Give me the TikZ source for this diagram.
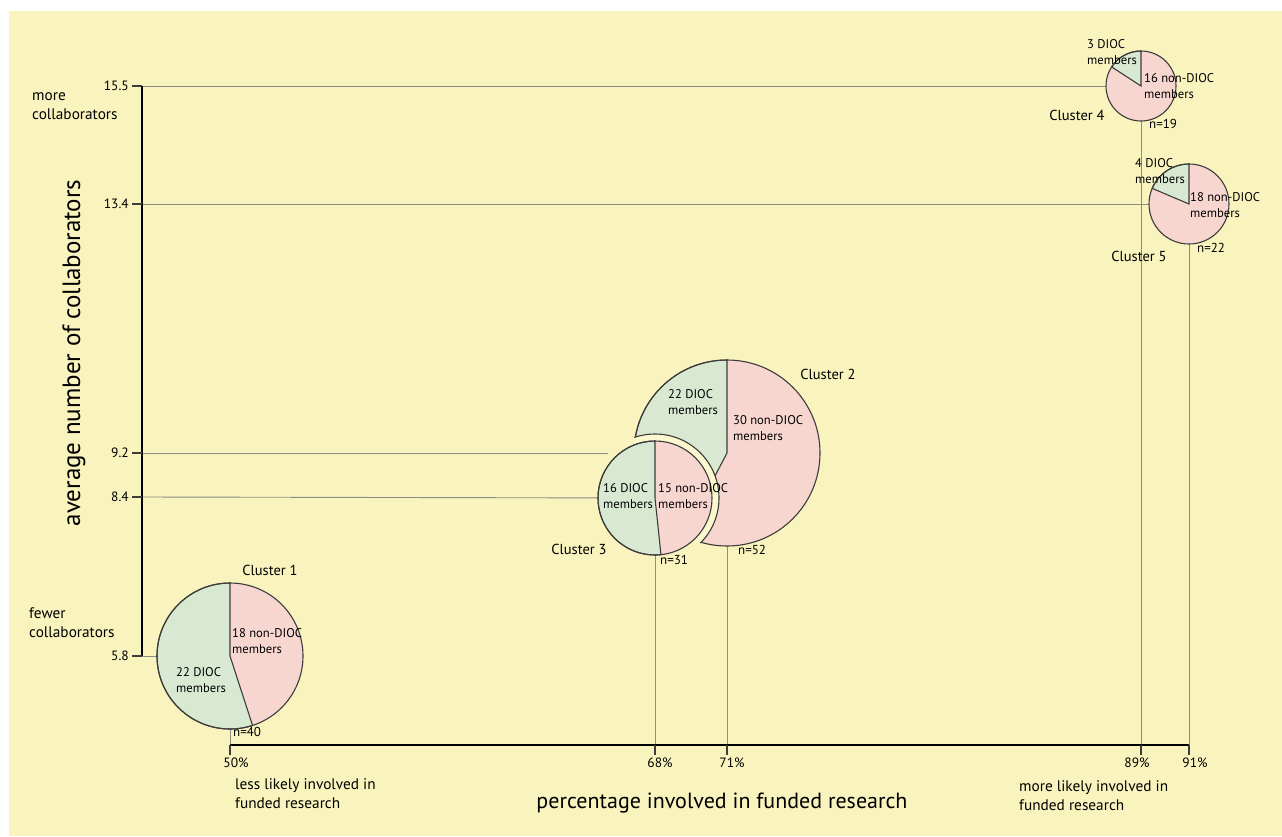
\documentclass[tikz,border=0pt]{standalone}
\usepackage{fontspec}
\setmainfont{PT Sans}
\definecolor{bgy}{HTML}{F9F4BD}
\definecolor{pgreen}{HTML}{D9E9D1}
\definecolor{ppink}{HTML}{F8D6D0}
\definecolor{outl}{HTML}{3C3C3C}
\definecolor{gridg}{HTML}{8D8D84}
\definecolor{halo}{HTML}{FBF7CE}
\begin{document}
\begin{tikzpicture}[x=1pt,y=-1pt]
\tikzset{
 pielab/.style={font=\fontsize{12.6}{16}\selectfont, align=left, anchor=west, inner sep=0},
 nlab/.style={font=\fontsize{13}{14}\selectfont, anchor=west, inner sep=0},
 clab/.style={font=\fontsize{14.5}{17}\selectfont, inner sep=0},
 note/.style={font=\fontsize{15.3}{19}\selectfont, align=left, anchor=west, inner sep=0},
 tickl/.style={font=\fontsize{13.5}{15}\selectfont, inner sep=0},
 axtitle/.style={font=\fontsize{22}{26}\selectfont, inner sep=0},
 ytitle/.style={font=\fontsize{25}{29}\selectfont, inner sep=0, rotate=90},
 gridline/.style={draw=gridg, line width=0.9},
 axisline/.style={draw=black, line width=1.4},
 tickmark/.style={draw=outl, line width=1.1},
 pieout/.style={draw=outl, line width=1.1},
}
\fill[white] (0,0) rectangle (1282,836);
\path[use as bounding box] (0,0) rectangle (1282,836);
\fill[bgy] (9,11) rectangle (1282,836);

% centres
\coordinate (c1) at (230,656);
\coordinate (c2) at (727,453);
\coordinate (c3) at (655,498);
\coordinate (c4) at (1141,86);
\coordinate (c5) at (1189,204);

% axis coordinates
\coordinate (y155) at (142,86);
\coordinate (y134) at (142,204);
\coordinate (y92) at (142,453);
\coordinate (y84) at (142,497);
\coordinate (y58) at (142,656);
\coordinate (x50) at (230,745);
\coordinate (x68) at (655,745);
\coordinate (x71) at (727,745);
\coordinate (x89) at (1141,745);
\coordinate (x91) at (1189,745);
\coordinate (g92end) at (608,453);

% grid lines
\draw[gridline] (y155) -- (c4);
\draw[gridline] (y134) -- (c5);
\draw[gridline] (y92) -- (g92end);
\draw[gridline] (y84) -- (c3);
\draw[gridline] (y58) -- (c1);
\draw[gridline] (c1) -- (x50);
\draw[gridline] (c3) -- (x68);
\draw[gridline] (c2) -- (x71);
\draw[gridline] (c4) -- (x89);
\draw[gridline] (c5) -- (x91);

% axes
\draw[axisline] (y155) -- (y58);
\draw[axisline] (x50) -- (x91);
\foreach \p in {y155,y134,y92,y84,y58} \draw[tickmark] (\p) -- ++(-10,0);
\foreach \p in {x50,x68,x71,x89,x91} \draw[tickmark] (\p) -- ++(0,10);

% Cluster 1
\fill[ppink] (c1) circle (73);
\filldraw[fill=pgreen, pieout] (c1) -- ++(-90:73) arc[start angle=-90, end angle=-288, radius=73] -- cycle;
\draw[pieout] (c1) circle (73);

% Cluster 2
\fill[ppink] (c2) circle (93);
\filldraw[fill=pgreen, pieout] (c2) -- ++(-90:93) arc[start angle=-90, end angle=-242.3, radius=93] -- cycle;
\draw[pieout] (c2) circle (93);
\begin{scope}
\clip (c2) circle (94);
\filldraw[fill=halo, pieout] (c3) circle (64);
\end{scope}

% Cluster 3
\fill[ppink] (c3) circle (57);
\filldraw[fill=pgreen, pieout] (c3) -- ++(-90:57) arc[start angle=-90, end angle=-276, radius=57] -- cycle;
\draw[pieout] (c3) circle (57);

% Cluster 4
\fill[ppink] (c4) circle (35);
\filldraw[fill=pgreen, pieout] (c4) -- ++(-90:35) arc[start angle=-90, end angle=-147, radius=35] -- cycle;
\draw[pieout] (c4) circle (35);

% Cluster 5
\fill[ppink] (c5) circle (40);
\filldraw[fill=pgreen, pieout] (c5) -- ++(-90:40) arc[start angle=-90, end angle=-157, radius=40] -- cycle;
\draw[pieout] (c5) circle (40);

% pie labels
\node[pielab] (l1p) at (232,641) {18 non-DIOC\\members};
\node[pielab] (l1g) at (176,680) {22 DIOC\\members};
\node[pielab] (l2g) at (668,402) {22 DIOC\\members};
\node[pielab] (l2p) at (733,428) {30 non-DIOC\\members};
\node[pielab] (l3g) at (603,496) {16 DIOC\\members};
\node[pielab] (l3p) at (658,496) {15 non-DIOC\\members};
\node[pielab] (l4g) at (1087,52) {3 DIOC\\members};
\node[pielab] (l4p) at (1144,86) {16 non-DIOC\\members};
\node[pielab] (l5g) at (1135,171) {4 DIOC\\members};
\node[pielab] (l5p) at (1190,205) {18 non-DIOC\\members};

\node[nlab] (n1) at (233,732) {n=40};
\node[nlab] (n3) at (660,560) {n=31};
\node[nlab] (n2) at (738,550) {n=52};
\node[nlab] (n4) at (1149,124) {n=19};
\node[nlab] (n5) at (1197,248) {n=22};

\node[clab] (k1) at (270,570) {Cluster 1};
\node[clab] (k2) at (828,374) {Cluster 2};
\node[clab] (k3) at (579,549) {Cluster 3};
\node[clab] (k4) at (1077,115) {Cluster 4};
\node[clab] (k5) at (1139,256) {Cluster 5};

% tick labels
\node[tickl, anchor=east] (t155) at (129,86) {15.5};
\node[tickl, anchor=east] (t134) at (129,204) {13.4};
\node[tickl, anchor=east] (t92) at (129,453) {9.2};
\node[tickl, anchor=east] (t84) at (129,497) {8.4};
\node[tickl, anchor=east] (t58) at (129,656) {5.8};
\node[tickl] (p50) at (236,763) {50\%};
\node[tickl] (p68) at (660,763) {68\%};
\node[tickl] (p71) at (732,763) {71\%};
\node[tickl] (p89) at (1137,763) {89\%};
\node[tickl] (p91) at (1195,763) {91\%};

% notes
\node[note] (more) at (32,106) {more\\collaborators};
\node[note] (fewer) at (29,623) {fewer\\collaborators};
\node[note] (less) at (235,793.5) {less likely involved in\\funded research};
\node[note] (morel) at (1019,796) {more likely involved in\\funded research};

% axis titles
\node[axtitle] (xt) at (722,803) {percentage involved in funded research};
\node[ytitle] (yt) at (74,353) {average number of collaborators};
\end{tikzpicture}
\end{document}
